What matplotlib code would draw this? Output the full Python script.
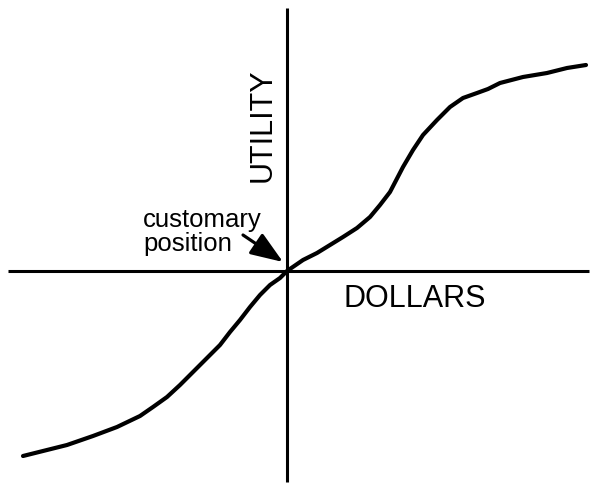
import matplotlib
matplotlib.use("Agg")
from matplotlib import pyplot as plt

# curve, origin at the customary position
dollars = [-264, -244, -220, -194, -170, -147, -134, -120, -107, -94, -80, -67, -57, -47, -37, -27, -17, -7, 0,
           16, 30, 43, 56, 70, 83, 93, 103, 116, 126, 136, 150, 163, 176, 190, 201, 213, 236, 260, 280, 299]
utility = [-185, -180, -174, -165, -156, -145, -136, -126, -114, -101, -87, -74, -61, -49, -36, -24, -14, -7, 0,
           11, 18, 26, 34, 43, 54, 66, 79, 104, 121, 136, 151, 164, 173, 178, 182, 188, 194, 198, 203, 206]

x_axis_span = [-279, 302]
y_axis_span = [-211, 263]

plt.rcParams['font.family'] = ['Liberation Sans', 'DejaVu Sans']

fig = plt.figure(figsize=(5.91, 4.86), dpi=100)
ax = fig.add_axes([0, 0, 1, 1])
ax.set_xlim(-287, 304)
ax.set_ylim(-215, 271)
ax.axis('off')

# axes of the sketch
ax.plot(x_axis_span, [0, 0], color='black', lw=2.2, solid_capstyle='butt')
ax.plot([0, 0], y_axis_span, color='black', lw=2.2, solid_capstyle='butt')

# utility curve
ax.plot(dollars, utility, color='black', lw=3.0, solid_capstyle='round', solid_joinstyle='round')

ax.text(-24, 146, 'UTILITY', rotation=90, ha='center', va='center', fontsize=22)
ax.text(57, -28, 'DOLLARS', ha='left', va='center', fontsize=22)
ax.text(-144, 39, 'customary\nposition', ha='left', va='center', fontsize=18.5, linespacing=0.95)

ax.annotate('', xy=(-4, 9), xytext=(-44, 36),
            arrowprops=dict(arrowstyle='-|>,head_length=0.9,head_width=0.34',
                            color='black', lw=2.3, shrinkA=0, shrinkB=0, mutation_scale=22))

fig.savefig('out.png', dpi=100, facecolor='white')
